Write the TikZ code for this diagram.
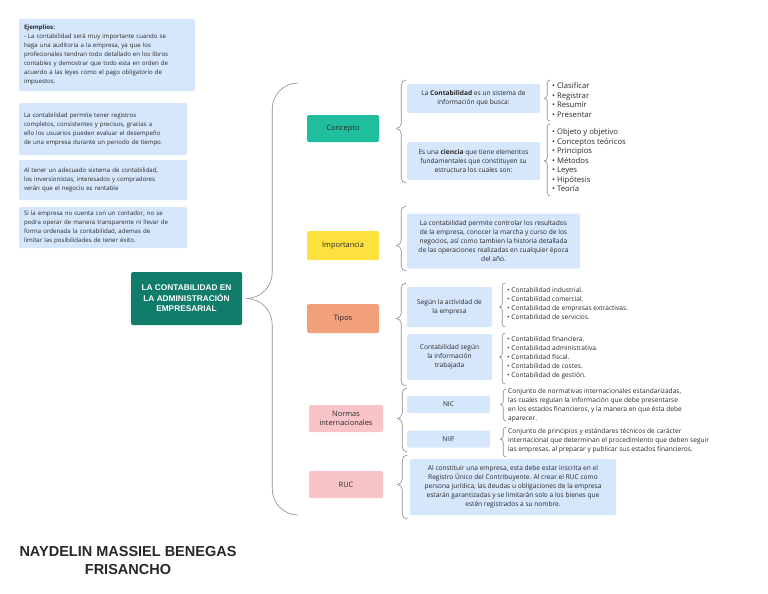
\documentclass[tikz,border=0pt]{standalone}
\usepackage{fontspec}
\setmainfont{Open Sans}
\newfontfamily\hdfont{Liberation Sans}
\usetikzlibrary{calc,positioning}
\definecolor{bx}{RGB}{214,230,251}
\definecolor{rt}{RGB}{16,124,106}
\definecolor{cc}{RGB}{30,190,158}
\definecolor{ic}{RGB}{254,224,62}
\definecolor{tc}{RGB}{242,160,124}
\definecolor{nc}{RGB}{249,196,199}
\definecolor{bg}{RGB}{140,140,140}
\definecolor{tx}{RGB}{40,40,40}
\newcommand\ftxt{\fontsize{6.6}{9}\selectfont}
\newcommand\fnote{\fontsize{6.1}{9}\selectfont}
\newcommand\flist{\fontsize{7.7}{9.5}\selectfont}
\tikzset{box/.style={fill=bx,rounded corners=1.5pt,inner sep=0pt,align=center,font=\ftxt,text=tx},
 note/.style={box,align=left,inner xsep=5pt,text width=#1pt,font=\fnote},
 cat/.style={rounded corners=1.5pt,inner sep=0pt,align=center,font=\fontsize{7.4}{9.4}\selectfont,text=tx},
 sz/.style 2 args={minimum width=#1pt,minimum height=#2pt},
 lst/.style={anchor=west,align=left,inner sep=0pt,font=\ftxt,text=tx},
 brc/.style={draw=bg,line width=.6pt}}
% brace from a node: #1 node, #2 gap, #3 depth, #4 top y, #5 bottom y
\newcommand{\curlyb}[5]{%
 \path (#1.east) ++(#2,0) coordinate (#1-t) ++(#3,0) coordinate (#1-v);
 \coordinate (#1-a) at ($(#1-v |- 0,#4)+(#3,0)$);
 \coordinate (#1-b) at ($(#1-v |- 0,#5)+(#3,0)$);
 \draw[brc] (#1-t) to[out=0,in=-90] ($(#1-v)+(0,-#3)$) -- ($(#1-a)+(-#3,#3)$) to[out=90,in=180] (#1-a);
 \draw[brc] (#1-t) to[out=0,in=90] ($(#1-v)+(0,#3)$) -- ($(#1-b)+(-#3,-#3)$) to[out=-90,in=180] (#1-b);}
\begin{document}
\begin{tikzpicture}[x=1pt,y=-1pt]
\fill[white] (0,0) rectangle (768,594);
\useasboundingbox (0,0) rectangle (768,594);
% notes on the left
\node[note=166,minimum height=72pt] (n1) at (107,55) {\textbf{Ejemplios:}\\- La contabilidad será muy importante cuando se\\haga una auditoria a la empresa, ya que los\\profecionales tendran todo detallado en los libros\\contables y demostrar que todo esta en orden de\\acuerdo a las leyes como el pago obligatorio de\\impuestos.};
\node[note=158,minimum height=52pt] (n2) at (103,129) {La contabilidad permite tener registros\\completos, consistentes y precisos, gracias a\\ello los usuarios pueden evaluar el desempeño\\de una empresa durante un periodo de tiempo.};
\node[note=158,minimum height=40pt] (n3) at (103,180) {Al tener un adecuado sistema de contabilidad,\\los inversionistas, interesados y compradores\\verán que el negocio es rentable};
\node[note=158,minimum height=41pt] (n4) at (103,227.5) {Si la empresa no cuenta con un contador, no se\\podra operar de manera transparente ni llevar de\\forma ordenada la contabilidad, ademas de\\limitar las posibilidades de tener éxito.};
% root and categories
\node[cat,fill=rt,sz={111}{53},text=white,font=\hdfont\bfseries\fontsize{8.3}{10.5}\selectfont] (root) at (186.5,298.5) {LA CONTABILIDAD EN\\LA ADMINISTRACIÓN\\EMPRESARIAL};
\node[cat,fill=cc,sz={72}{27}] (con) at (343,128.5) {Concepto};
\node[cat,fill=ic,sz={72}{29}] (imp) at (343,245.5) {Importancia};
\node[cat,fill=tc,sz={72}{29}] (tip) at (343,318.5) {Tipos};
\node[cat,fill=nc,sz={74}{27}] (nor) at (346,418.5) {Normas\\internacionales};
\node[cat,fill=nc,sz={74}{27}] (ruc) at (346,484.5) {RUC};
\curlyb{root}{4}{26}{83}{515}
% concepto
\node[box,sz={133}{29}] (c1) at (473.5,98.5) {La \textbf{Contabilidad} es un sistema de\\información que busca:};
\node[box,sz={133}{38}] (c2) at (473.5,161) {Es una \textbf{ciencia} que tiene elementos\\fundamentales que constituyen su\\estructura los cuales son:};
\curlyb{con}{17}{5}{80}{183}
\node[lst,font=\flist] (l1) at (552,100) {• Clasificar\\• Registrar\\• Resumir\\• Presentar};
\node[lst,font=\flist] (l2) at (552,160.5) {• Objeto y objetivo\\• Conceptos teóricos\\• Principios\\• Métodos\\• Leyes\\• Hipótesis\\• Teoría};
\curlyb{c1}{4}{3}{80}{121}
\curlyb{c2}{4}{3}{124}{196}
% importancia
\node[box,sz={173}{55}] (i1) at (493.5,241) {La contabilidad permite controlar los resultados\\de la empresa, conocer la marcha y curso de los\\negocios, así como tambien la historia detallada\\de las operaciones realizadas en cualquier época\\del año.};
\curlyb{imp}{17}{5}{206}{271}
% tipos
\node[box,sz={85}{40}] (t1) at (449.5,307) {Según la actividad de\\la empresa};
\node[box,sz={85}{46}] (t2) at (449.5,357) {Contabilidad según\\la información\\trabajada};
\curlyb{tip}{17}{5}{283}{386}
\node[lst] (k1) at (507,303.5) {• Contabilidad industrial.\\• Contabilidad comercial.\\• Contabilidad de empresas extractivas.\\• Contabilidad de servicios.};
\node[lst] (k2) at (507,357.5) {• Contabilidad financiera.\\• Contabilidad administrativa.\\• Contabilidad fiscal.\\• Contabilidad de costes.\\• Contabilidad de gestión.};
\curlyb{t1}{7}{3}{283}{327}
\curlyb{t2}{7}{3}{333}{384}
% normas
\node[box,sz={83}{17}] (nic) at (448.5,404.5) {NIC};
\node[box,sz={83}{17}] (niif) at (448.5,439) {NIIF};
\curlyb{nor}{14}{5}{388}{452}
\node[lst] (d1) at (508,405) {Conjunto de normativas internacionales estandarizadas,\\las cuales regulan la información que debe presentarse\\en los estados financieros, y la manera en que ésta debe\\aparecer.};
\node[lst] (d2) at (508,441) {Conjunto de principios y estándares técnicos de carácter\\internacional que determinan el procedimiento que deben seguir\\las empresas, al preparar y publicar sus estados financieros.};
\curlyb{nic}{10}{3}{389}{421}
\curlyb{niif}{10}{3}{427}{457}
% ruc
\node[box,sz={206}{56}] (r1) at (513,487) {Al constituir una empresa, esta debe estar inscrita en el\\Registro Único del Contribuyente. Al crear el RUC como\\persona jurídica, las deudas u obligaciones de la empresa\\estarán garantizadas y se limitarán solo a los bienes que\\estén registrados a su nombre.};
\curlyb{ruc}{14}{5}{455}{519}
% author
\node[align=center,text=tx,font=\hdfont\bfseries\fontsize{14.5}{18}\selectfont] (nm) at (128,561) {NAYDELIN MASSIEL BENEGAS\\FRISANCHO};
\end{tikzpicture}
\end{document}
